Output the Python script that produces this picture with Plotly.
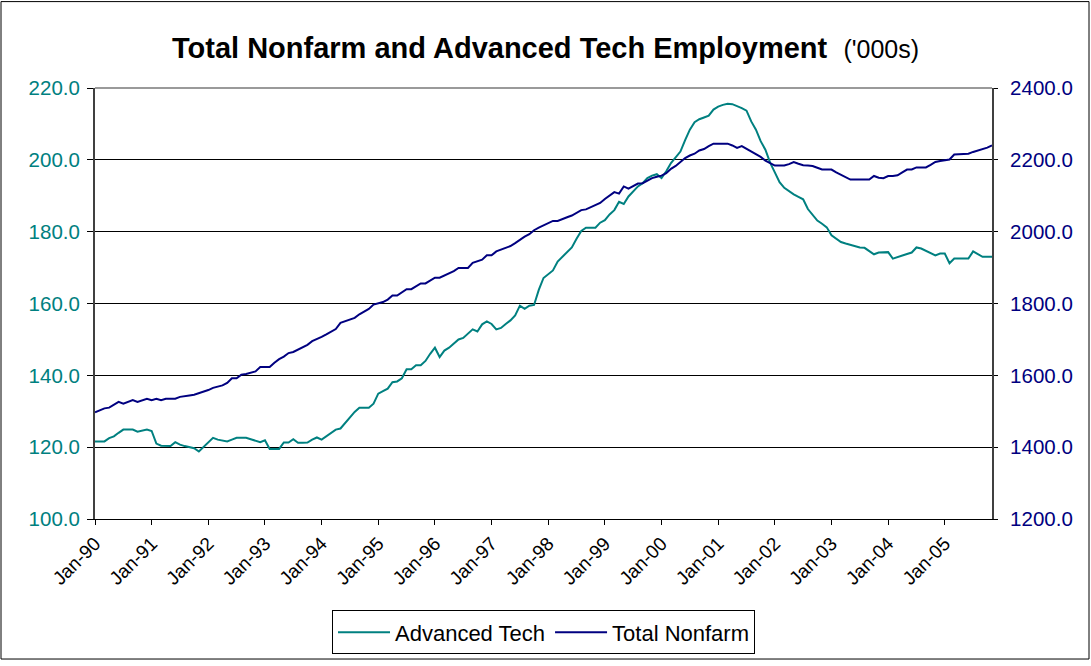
import plotly.graph_objects as go

months = ["Jan", "Feb", "Mar", "Apr", "May", "Jun", "Jul", "Aug", "Sep", "Oct", "Nov", "Dec"]
years = ["90", "91", "92", "93", "94", "95", "96", "97", "98", "99", "00", "01", "02", "03", "04", "05"]
categories = [f"{m}-{y}" for y in years for m in months][:191]  # Jan-90 .. Nov-05

advanced_tech = [
    # 1990
    121.6, 121.6, 121.6, 122.5, 123.0, 124.0, 124.9, 124.9, 124.9, 124.3, 124.6, 124.9,
    # 1991
    124.5, 121.0, 120.4, 120.3, 120.3, 121.4, 120.7, 120.3, 120.0, 119.7, 118.8, 120.0,
    # 1992
    121.3, 122.6, 122.1, 121.9, 121.6, 122.1, 122.6, 122.6, 122.6, 122.2, 121.9, 121.4,
    # 1993
    121.9, 119.5, 119.5, 119.5, 121.3, 121.3, 122.2, 121.2, 121.2, 121.3, 122.1, 122.7,
    # 1994
    122.1, 123.0, 124.0, 124.9, 125.2, 126.7, 128.4, 129.8, 131.0, 131.0, 131.0, 132.1,
    # 1995
    134.9, 135.6, 136.3, 138.1, 138.3, 139.2, 141.7, 141.7, 142.8, 142.8, 144.0, 146.0,
    # 1996
    147.7, 145.1, 146.9, 147.7, 148.9, 150.0, 150.4, 151.6, 152.8, 152.2, 154.2, 155.0,
    # 1997
    154.3, 152.8, 153.2, 154.3, 155.3, 156.7, 159.4, 158.5, 159.4, 159.6, 163.8, 167.1,
    # 1998
    168.2, 169.2, 171.7, 173.0, 174.3, 175.6, 178.0, 180.2, 181.1, 181.1, 181.1, 182.5,
    # 1999
    183.2, 184.8, 186.0, 188.3, 187.7, 189.8, 191.2, 192.6, 193.5, 194.9, 195.6, 196.0,
    # 2000
    194.9, 196.8, 199.1, 200.7, 202.3, 205.5, 208.4, 210.5, 211.3, 211.8, 212.3, 214.0,
    # 2001
    214.8, 215.3, 215.6, 215.5, 215.0, 214.4, 213.7, 210.7, 208.4, 205.2, 202.8, 199.2,
    # 2002
    196.5, 193.8, 192.2, 191.2, 190.4, 189.7, 189.0, 186.3, 184.7, 183.1, 182.2, 181.2,
    # 2003
    179.0, 178.0, 177.1, 176.7, 176.3, 175.9, 175.6, 175.5, 174.5, 173.7, 174.2, 174.2,
    # 2004
    174.3, 172.5, 173.0, 173.4, 173.8, 174.2, 175.6, 175.3, 174.7, 174.1, 173.4, 173.9,
    # 2005
    173.9, 171.2, 172.5, 172.5, 172.5, 172.5, 174.5, 173.8, 173.0, 173.0, 173.0,
]

total_nonfarm = [
    # 1990
    1497, 1502, 1508, 1510, 1519, 1526, 1521, 1526, 1531, 1526, 1530, 1535,
    # 1991
    1531, 1535, 1531, 1535, 1535, 1535, 1540, 1541, 1544, 1546, 1550, 1555,
    # 1992
    1559, 1565, 1568, 1572, 1579, 1592, 1592, 1602, 1604, 1607, 1611, 1623,
    # 1993
    1623, 1623, 1635, 1645, 1652, 1662, 1665, 1672, 1679, 1685, 1695, 1700,
    # 1994
    1707, 1714, 1721, 1729, 1746, 1750, 1754, 1760, 1770, 1778, 1785, 1797,
    # 1995
    1800, 1804, 1811, 1822, 1822, 1832, 1840, 1840, 1848, 1856, 1856, 1864,
    # 1996
    1872, 1872, 1878, 1883, 1890, 1899, 1899, 1899, 1913, 1917, 1922, 1934,
    # 1997
    1934, 1945, 1950, 1954, 1960, 1968, 1978, 1986, 1993, 2004, 2011, 2018,
    # 1998
    2024, 2030, 2030, 2034, 2040, 2045, 2052, 2060, 2062, 2068, 2075, 2080,
    # 1999
    2091, 2100, 2110, 2106, 2126, 2120, 2127, 2134, 2135, 2142, 2149, 2153,
    # 2000
    2156, 2163, 2175, 2183, 2195, 2205, 2212, 2217, 2226, 2230, 2238, 2245,
    # 2001
    2245, 2245, 2245, 2240, 2233, 2238, 2231, 2224, 2215, 2208, 2198, 2190,
    # 2002
    2184, 2184, 2184, 2188, 2194, 2189, 2185, 2184, 2183, 2178, 2173, 2173,
    # 2003
    2173, 2165, 2158, 2150, 2145, 2145, 2145, 2145, 2145, 2155, 2150, 2149,
    # 2004
    2155, 2155, 2157, 2165, 2173, 2173, 2179, 2179, 2179, 2186, 2194, 2197,
    # 2005
    2199, 2201, 2215, 2215, 2216, 2217, 2222, 2226, 2228, 2234, 2240,
]

x_ticks = [c for c in categories if c.startswith("Jan-")]
left_ticks = [100, 120, 140, 160, 180, 200, 220]
right_ticks = [1200, 1400, 1600, 1800, 2000, 2200, 2400]

TEAL = "#008080"
NAVY = "#000080"
FONT = "Liberation Sans, Arial, sans-serif"

fig = go.Figure()
fig.add_trace(go.Scatter(x=categories, y=advanced_tech, name="Advanced Tech",
                         mode="lines", line=dict(color=TEAL, width=2)))
fig.add_trace(go.Scatter(x=categories, y=total_nonfarm, name="Total Nonfarm",
                         mode="lines", line=dict(color=NAVY, width=2), yaxis="y2"))

W, H = 1091, 666
L, R, T, B = 95, 99, 88, 144
pw, ph = W - L - R, H - T - B

fig.update_layout(
    width=W, height=H, autosize=False,
    margin=dict(l=L, r=R, t=T, b=B),
    paper_bgcolor="white", plot_bgcolor="white",
    font=dict(family=FONT, color="black", size=20),
    title=dict(
        text="<b>Total Nonfarm and Advanced Tech Employment</b>&nbsp;&nbsp;<span style='font-size:25px'>('000s)</span>",
        x=0.5, xanchor="center", y=1 - 48 / H, yanchor="middle",
        font=dict(family=FONT, size=29, color="black"),
    ),
    xaxis=dict(
        type="category", categoryorder="array", categoryarray=categories,
        range=[0, len(categories) - 1],
        tickmode="array", tickvals=x_ticks, ticktext=x_ticks,
        tickangle=-45, ticks="outside", ticklen=5, tickcolor="black",
        showline=True, linecolor="black", linewidth=1, showgrid=False,
        tickfont=dict(size=19, color="black"),
    ),
    yaxis=dict(
        range=[100, 220], tickmode="array", tickvals=left_ticks,
        tickformat=".1f", ticks="outside", ticklen=6, tickcolor="black",
        ticklabelstandoff=3,
        showline=True, linecolor="#404040", linewidth=2,
        showgrid=True, gridcolor="black", gridwidth=1, zeroline=False,
        tickfont=dict(size=20.5, color=TEAL),
    ),
    yaxis2=dict(
        range=[1200, 2400], overlaying="y", side="right",
        tickmode="array", tickvals=right_ticks, tickformat=".1f",
        ticks="outside", ticklen=4, tickcolor="black",
        ticklabelstandoff=8,
        showline=True, linecolor="#404040", linewidth=2,
        showgrid=False, zeroline=False,
        tickfont=dict(size=20.5, color=NAVY),
    ),
    legend=dict(
        orientation="h", x=0.5, xanchor="center",
        y=(H - B - 614) / ph, yanchor="top",
        itemwidth=52,
        bordercolor="black", borderwidth=1, bgcolor="white",
        font=dict(size=22, color="black"),
    ),
    showlegend=True,
)

# gray top border of plot area and outer chart frame
fig.add_shape(type="line", xref="paper", yref="paper", x0=0, x1=1, y0=1, y1=1,
              line=dict(color="#9a9a9a", width=2), layer="above")
fig.add_shape(type="rect", xref="paper", yref="paper",
              x0=(1 - L) / pw, x1=(W - 2 - L) / pw,
              y0=(H - B - (H - 3)) / ph, y1=(H - B - 1) / ph,
              line=dict(color="black", width=1), layer="above")

fig.write_html(
    "out.html",
    config={"responsive": False, "displayModeBar": False},
    post_script="document.body.style.margin='0';document.body.style.overflow='hidden';",
)
